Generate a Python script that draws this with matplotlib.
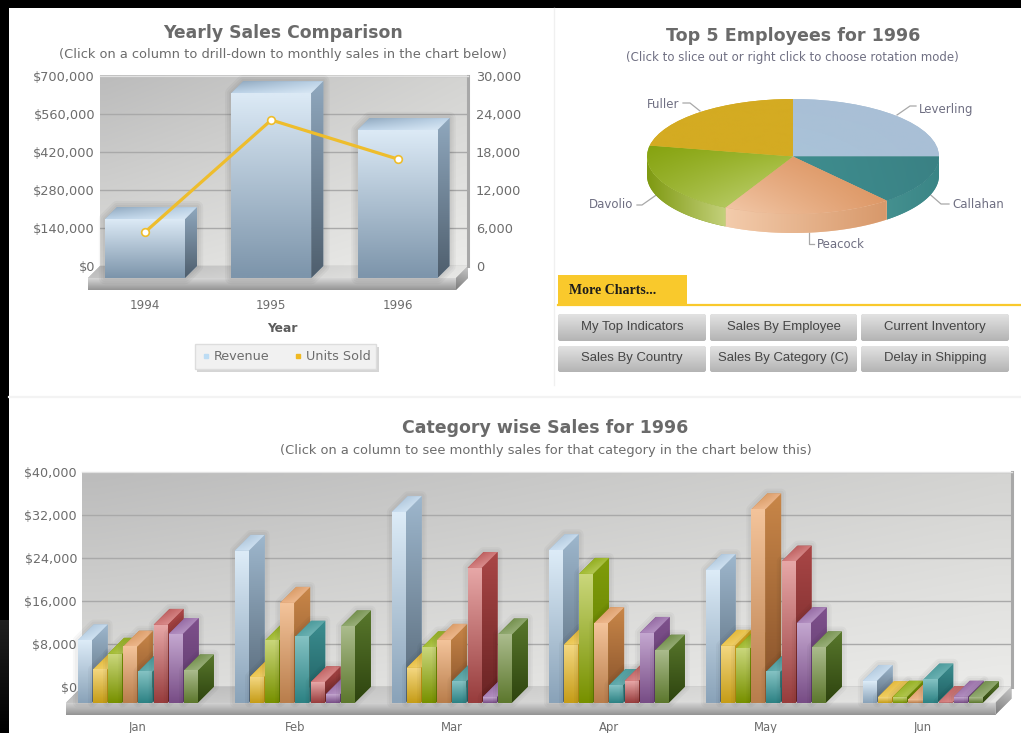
import numpy as np
import matplotlib
matplotlib.use('Agg')
import matplotlib.pyplot as plt
from matplotlib.colors import to_rgb
from matplotlib.lines import Line2D
from matplotlib.patches import Polygon, Rectangle, FancyBboxPatch

W, H = 1021, 733

# ---------- data ----------
years = ['1994', '1995', '1996']
revenue = [217000, 681000, 545000]
units_sold = [5350, 23050, 16900]
rev_ticks = [0, 140000, 280000, 420000, 560000, 700000]
unit_ticks = [0, 6000, 12000, 18000, 24000, 30000]

employees = ['Leverling', 'Callahan', 'Peacock', 'Davolio', 'Fuller']
employee_share = [25.0, 13.9, 18.75, 20.4, 21.95]

months = ['Jan', 'Feb', 'Mar', 'Apr', 'May', 'Jun']
beverages = [11600, 28300, 35500, 28400, 24700, 4050]
condiments = [6150, 4800, 6500, 10800, 10600, 1000]
confections = [9100, 11600, 10300, 24000, 10100, 1100]
dairy = [10450, 18600, 11700, 14800, 36000, 600]
grains = [5800, 12300, 4050, 3300, 5800, 4300]
meat = [14500, 3800, 25100, 4050, 26300, 120]
produce = [12800, 1550, 1050, 13000, 14800, 1100]
seafood = [6000, 14200, 12700, 9700, 10300, 1000]
cat_ticks = [0, 8000, 16000, 24000, 32000, 40000]

buttons = [['My Top Indicators', 'Sales By Employee', 'Current Inventory'],
           ['Sales By Country', 'Sales By Category (C)', 'Delay in Shipping']]

# ---------- styles: front top, front bottom, side top, side bottom, roof ----------
BLUE = ('#dcebf7', '#8aa3b9', '#9db6cc', '#566878', '#c6dbee')
BLUE_TOP = ('#dbe9f5', '#7d95ab', '#8fa7bd', '#4f5f6e', '#bcd3e8')
YELLOW = ('#f3d67f', '#c69d18', '#d8a820', '#b08a10', '#efcb58')
GREEN = ('#c9d67a', '#789100', '#7f9c0a', '#5e7800', '#a3bd32')
ORANGE = ('#f3c39a', '#b97e4c', '#c88648', '#85502a', '#eab084')
TEAL = ('#84c2c3', '#2d8284', '#3c8e90', '#1f5f62', '#5ba6a7')
RED = ('#e6a6a6', '#983d3d', '#a94646', '#692323', '#d27a7a')
PURPLE = ('#c3a6cf', '#784d86', '#7e508c', '#5c3969', '#ab85ba')
DKGREEN = ('#aabb8c', '#5d782e', '#58772c', '#2e440f', '#8ca66b')
TXT = '#6c6c6c'

plt.rcParams['font.family'] = ['DejaVu Sans']
fig = plt.figure(figsize=(W / 100, H / 100), dpi=100, facecolor='black')


def axes_px(l, t, r, b, **kw):
    return fig.add_axes([l / W, 1 - b / H, (r - l) / W, (b - t) / H], **kw)


def rgb(c):
    return np.array(to_rgb(c))


def grad(ax, patch, bbox, tl, tr, bl, br, z):
    """Paint a clipped bilinear gradient over `patch`; bbox = x0, x1, low, high."""
    n = 32
    u = np.linspace(0, 1, n)[None, :, None]
    v = np.linspace(0, 1, n)[:, None, None]
    img = ((1 - u) * (1 - v) * rgb(tl) + u * (1 - v) * rgb(tr)
           + (1 - u) * v * rgb(bl) + u * v * rgb(br))
    x0, x1, y0, y1 = bbox
    im = ax.imshow(img, extent=(x0, x1, y0, y1), origin='upper', aspect='auto',
                   interpolation='bilinear', zorder=z)
    im.set_clip_path(patch)
    im.set_clip_box(fig.bbox)
    return im


def poly(ax, pts, tl, tr, bl, br, z):
    pts = np.array(pts, float)
    p = Polygon(pts, closed=True, fc=tl, ec='none', clip_on=False, zorder=z)
    ax.add_patch(p)
    grad(ax, p, (pts[:, 0].min(), pts[:, 0].max(), pts[:, 1].min(), pts[:, 1].max()),
         tl, tr, bl, br, z + 0.01)
    return p


def bar3d(ax, rect, st, ddx, ddy, z, shadow=(9, 6, 3), sa=0.035):
    x0, y0 = rect.get_xy()
    x1, y1 = x0 + rect.get_width(), y0 + rect.get_height()
    sil = [(x0, y0), (x1, y0), (x1 + ddx, y0 + ddy), (x1 + ddx, y1 + ddy), (x0 + ddx, y1 + ddy), (x0, y1)]
    for lw in shadow:
        ax.add_patch(Polygon(sil, closed=True, fc='none', ec=(0, 0, 0, sa), lw=lw,
                             joinstyle='round', clip_on=False, zorder=z))
    poly(ax, [(x1, y0), (x1 + ddx, y0 + ddy), (x1 + ddx, y1 + ddy), (x1, y1)],
         st[2], st[2], st[3], st[3], z + 0.1)
    poly(ax, [(x0, y1), (x1, y1), (x1 + ddx, y1 + ddy), (x0 + ddx, y1 + ddy)],
         st[2], st[4], st[4], st[0], z + 0.2)
    rect.set_zorder(z + 0.3)
    rect.set_clip_on(False)
    grad(ax, rect, (x0, x1, y0, y1), st[0], st[0], st[1], st[1], z + 0.31)


def stage(ax, ddx, ddy, th):
    """Wall, floor and slab of a 3D chart frame, in the axes' own data units."""
    xl, xr = ax.get_xlim()
    yl, yh = ax.get_ylim()
    wall = Rectangle((xl, yl), xr - xl, yh - yl, fc='#d0d0d0', ec='none', zorder=0.05)
    ax.add_patch(wall)
    grad(ax, wall, (xl, xr, yl, yh), '#bcbcbc', '#d4d4d2', '#dcdcda', '#ebebe9', 0.1)
    poly(ax, [(xl, 0), (xr, 0), (xr - ddx, -ddy), (xl - ddx, -ddy)],
         '#b8b8b8', '#e4e4e2', '#c4c4c4', '#e8e8e6', 0.6)
    poly(ax, [(xl - ddx, -ddy), (xr - ddx, -ddy), (xr - ddx, -ddy - th), (xl - ddx, -ddy - th)],
         '#d6d6d6', '#d6d6d6', '#949494', '#949494', 0.7)
    poly(ax, [(xr - ddx, -ddy), (xr, 0), (xr, -th), (xr - ddx, -ddy - th)],
         '#bdbdbd', '#c8c8c8', '#7c7c7c', '#8c8c8c', 0.8)
    ax.grid(axis='y', color='#a9a9a9', lw=1.0)
    ax.set_axisbelow(True)
    ax.patch.set_visible(False)
    for s in ('left', 'bottom'):
        ax.spines[s].set_visible(False)
    ax.spines['top'].set_color('#e2e2e2')
    ax.spines['top'].set_linewidth(1)
    ax.spines['right'].set_color('#a8a8a8')
    ax.spines['right'].set_linewidth(2.2)


# ---------- page chrome ----------
bg = axes_px(0, 0, W, H)
bg.set_xlim(0, W)
bg.set_ylim(H, 0)
bg.set_autoscale_on(False)
bg.axis('off')
bg.add_patch(Rectangle((0, 0), W, H, fc='black', ec='none', zorder=0))
strip = Rectangle((0, 620), 9, 113, fc='#141414', ec='none', zorder=0.2)
bg.add_patch(strip)
grad(bg, strip, (0, 9, 620, 733), '#000000', '#000000', '#202020', '#202020', 0.3)
bg.add_patch(Rectangle((9, 8), W - 9, H - 8, fc='white', ec='none', zorder=1))
bg.plot([553.5, 553.5], [8, 385], color='#f0f0f0', lw=1, zorder=2)
bg.plot([9, W], [397, 397], color='#f3f3f3', lw=1.6, zorder=2)

# tab
bg.add_patch(Rectangle((558, 275), 129, 29, fc='#f9c92c', ec='none', zorder=2))
bg.plot([558, W], [304.5, 304.5], color='#f9c92c', lw=1.6, zorder=2)
bg.text(569, 290, 'More Charts...', family='Liberation Serif', weight='bold',
        fontsize=10, color='#1c1c1c', va='center', ha='left', zorder=3)

# buttons
col_x = [(558, 706), (710, 857), (861, 1009)]
row_y = [(314, 341), (346, 372)]
for r, (t, b) in enumerate(row_y):
    for c, (l, rr) in enumerate(col_x):
        fb = FancyBboxPatch((l + 2, t + 2), rr - l - 4, b - t - 4,
                            boxstyle='round,pad=2,rounding_size=2.5', fc='#d0d0d0', ec='none', zorder=2)
        bg.add_patch(fb)
        grad(bg, fb, (l, rr, b, t), '#e2e2e2', '#e2e2e2', '#b4b4b4', '#b4b4b4', 2.1)
        bg.text((l + rr) / 2, (t + b) / 2 - 0.5, buttons[r][c], family='Liberation Sans', fontsize=9.45,
                color='#454545', ha='center', va='center', zorder=3)

# ---------- top-left chart ----------
l1, t1, r1, b1 = 100, 76, 468, 266
ax = axes_px(l1, t1, r1, b1)
step = 126.25
ctr0 = 157
ax.set_xlim((l1 - ctr0) / step, (r1 - ctr0) / step)
ax.set_ylim(0, rev_ticks[-1])
ax.set_autoscale_on(False)
ddx1 = 12 / step
ddy1 = 12 / (b1 - t1) * rev_ticks[-1]
stage(ax, ddx1, ddy1, ddy1)
x1 = np.arange(len(years))
bw = 80 / step
rects = ax.bar(x1 - ddx1, revenue, bw, bottom=-ddy1, color='#a9bfd3')
for i, rc in enumerate(rects):
    bar3d(ax, rc, BLUE_TOP, ddx1, ddy1, 2 + i)
ax.set_yticks(rev_ticks, [f'${v:,}' for v in rev_ticks])
ax.tick_params(axis='y', length=0, pad=3.6, labelsize=9.3, labelcolor=TXT)
ax.set_xticks(x1 - ddx1, years)
ax.tick_params(axis='x', length=0, pad=23.5, labelsize=8.6, labelcolor=TXT)
ax.set_title('Yearly Sales Comparison', x=(283 - l1) / (r1 - l1), y=(b1 - 33) / (b1 - t1), pad=0,
             va='center', ha='center', fontsize=12.4, fontweight='bold', color='#6a6a6a')
ax.text((283 - l1) / (r1 - l1), (b1 - 55) / (b1 - t1),
        '(Click on a column to drill-down to monthly sales in the chart below)',
        transform=ax.transAxes, ha='center', va='center', fontsize=9.35, color=TXT)
ax.set_xlabel('Year', fontsize=8.8, fontweight='bold', color='#5c5c5c')
ax.xaxis.set_label_coords((282 - l1) / (r1 - l1), (b1 - 328) / (b1 - t1))
ax.xaxis.label.set_va('center')

ax2 = ax.twinx()
ax2.set_ylim(0, unit_ticks[-1])
ax2.set_yticks(unit_ticks, [f'{v:,}' for v in unit_ticks])
ax2.tick_params(axis='y', length=0, pad=5.8, labelsize=9.3, labelcolor=TXT)
for s in ax2.spines.values():
    s.set_visible(False)
ax2.patch.set_visible(False)
ax2.plot(x1 - ddx1, units_sold, color='#eebd2c', lw=2.3, marker='o', ms=5.5,
         mfc='white', mec='#eebd2c', mew=1.2, clip_on=False, zorder=5)
hd = [Line2D([], [], ls='none', marker='s', ms=3.4, color='#bcdcf4'),
      Line2D([], [], ls='none', marker='s', ms=3.4, color='#f0b922')]
lg = ax2.legend(hd, ['Revenue', 'Units Sold'], ncol=2, loc='center',
                bbox_to_anchor=(285.5 / W, 1 - 356.5 / H), bbox_transform=fig.transFigure,
                fontsize=9.2, labelcolor=TXT, frameon=True, fancybox=False,
                shadow={'ox': 2, 'oy': -2, 'alpha': 0.3, 'fc': '#777777', 'ec': 'none'},
                facecolor='#f1f1f1', edgecolor='#dddddd', framealpha=1,
                handlelength=0.8, handletextpad=0.25, columnspacing=1.8, borderpad=0.45)

# ---------- pie ----------
pa = axes_px(647, 99, 939, 214)
cols_flat = ['#a9bfd6', '#3b8285', '#e0a377', '#a4bb3e', '#d4ab22']
wedges, _ = pa.pie(employee_share, startangle=90, counterclock=False, radius=1, colors=cols_flat)
pa.set_aspect('auto')
pa.set_xlim(-1, 1)
pa.set_ylim(-1, 1)
pa.set_autoscale_on(False)
for w_ in wedges:
    w_.set_zorder(2)
depth = 19 / 57.5
side_cols = {'Callahan': ('#44908f', '#3a8586'), 'Peacock': ('#f3cbab', '#d8996b'),
             'Davolio': ('#7f9a12', '#c3d07a')}
top_cols = {'Leverling': ('#a9bfd6', '#a9bfd6', '#a9c3d8', '#a9bfd6'),
            'Callahan': ('#3f8d8e', '#3a8184', '#3e8e8f', '#3a8285'),
            'Peacock': ('#e5a67b', '#d98f58', '#f2c8a8', '#df9b6b'),
            'Davolio': ('#86a310', '#9ab42a', '#9cb535', '#c5d57d'),
            'Fuller': ('#d4ab22', '#d4ab22', '#d4ab22', '#d4ab22')}
cum = 90.0
tot = sum(employee_share)
for name, val, wd in zip(employees, employee_share, wedges):
    a = cum
    b = cum - val / tot * 360
    cum = b
    ts = np.radians(np.linspace(a, b, 80))
    cx, sy = np.cos(ts), np.sin(ts)
    if name in side_cols:
        keep = sy <= 0
        cx_, sy_ = cx[keep], sy[keep]
        pts = list(zip(cx_, sy_)) + list(zip(cx_[::-1], sy_[::-1] - depth))
        c0, c1 = side_cols[name]
        poly(pa, pts, c0, c1, c0, c1, 1)
    xs = np.r_[0, cx]
    ys = np.r_[0, sy]
    tc = top_cols[name]
    grad(pa, wd, (xs.min(), xs.max(), ys.min(), ys.max()), *tc, 2.1)

pie_txt = '#6f6f82'
labels_px = [('Fuller', 679, 104, 'right', [(683, 103), (690, 103), (700, 111)]),
             ('Leverling', 919, 109, 'left', [(916, 106), (910, 106), (897, 115)]),
             ('Callahan', 952, 204, 'left', [(949, 204), (941, 204), (925, 190)]),
             ('Peacock', 817, 244, 'left', [(814, 244), (809, 244), (809, 224)]),
             ('Davolio', 633, 205, 'right', [(637, 205), (642, 205), (662, 191)])]
for name, x, y, ha, ln in labels_px:
    bg.text(x, y, name, fontsize=8.5, color=pie_txt, ha=ha, va='center', zorder=3)
    bg.plot(*zip(*ln), color='#a8a8a8', lw=0.9, zorder=3)
bg.text(793, 36, 'Top 5 Employees for 1996', fontsize=12.6, fontweight='bold', color='#6a6a6a',
        ha='center', va='center', zorder=3)
bg.text(792.5, 58, '(Click to slice out or right click to choose rotation mode)', fontsize=8.5,
        color=pie_txt, ha='center', va='center', zorder=3)

# ---------- bottom chart ----------
l2, t2, r2, b2 = 82, 472, 1011.5, 686.7
ac = axes_px(l2, t2, r2, b2)
s2 = 157.0
c0 = 153.8
ac.set_xlim((l2 - c0) / s2, (r2 - c0) / s2)
ac.set_ylim(0, cat_ticks[-1])
ac.set_autoscale_on(False)
ddx2 = 16 / s2
ddy2 = 16 / (b2 - t2) * cat_ticks[-1]
stage(ac, ddx2, ddy2, 12 / (b2 - t2) * cat_ticks[-1])
xm = np.arange(len(months))
series = [(beverages, BLUE), (condiments, YELLOW), (confections, GREEN), (dairy, ORANGE),
          (grains, TEAL), (meat, RED), (produce, PURPLE), (seafood, DKGREEN)]
bw2 = 14 / s2
pitch = 15.17 / s2
z = 2.0
for j, (vals, st) in enumerate(series):
    off = (j - 3.5) * pitch
    rs = ac.bar(xm + off - ddx2, vals, bw2, bottom=-ddy2, color=st[1])
    for i, rc in enumerate(rs):
        # groups do not overlap, so one depth level per series is enough
        bar3d(ac, rc, st, ddx2, ddy2, z + j, shadow=(7, 4), sa=0.03)
ac.set_yticks(cat_ticks, [f'${v:,}' for v in cat_ticks])
ac.tick_params(axis='y', length=0, pad=3.6, labelsize=9.2, labelcolor=TXT)
ac.set_xticks(xm - ddx2, months)
ac.tick_params(axis='x', length=0, pad=25.0, labelsize=8.4, labelcolor=TXT)
ac.set_title('Category wise Sales for 1996', x=(545.5 - l2) / (r2 - l2), y=(b2 - 428) / (b2 - t2), pad=0,
             va='center', ha='center', fontsize=12.5, fontweight='bold', color='#6a6a6a')
ac.text((546 - l2) / (r2 - l2), (b2 - 451) / (b2 - t2),
        '(Click on a column to see monthly sales for that category in the chart below this)',
        transform=ac.transAxes, ha='center', va='center', fontsize=9.4, color=TXT)

fig.savefig('out.png', dpi=100, facecolor=fig.get_facecolor())
